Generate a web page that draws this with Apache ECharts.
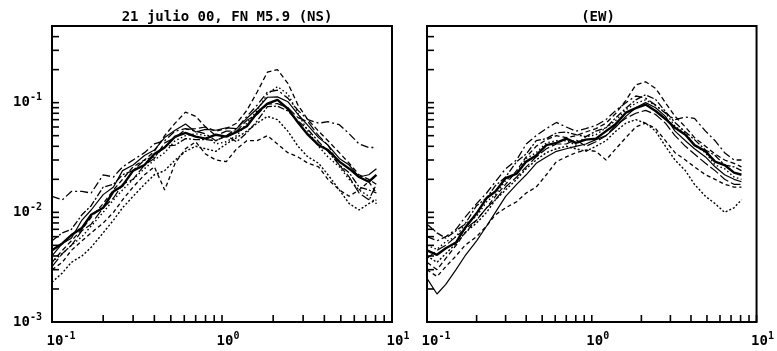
<!DOCTYPE html>
<html>
<head>
<meta charset="utf-8">
<script src="https://cdn.jsdelivr.net/npm/echarts@6/dist/echarts.min.js"></script>
<style>
  html, body { margin: 0; padding: 0; background: #fff; }
  #chart { width: 777px; height: 351px; }
</style>
</head>
<body>
<div id="chart"></div>
<script>
// frecuencias (Hz) comunes a todas las curvas
var freq = [0.10, 0.115, 0.13, 0.15, 0.17, 0.20, 0.23, 0.26, 0.30, 0.35, 0.40, 0.46, 0.53, 0.61, 0.70,
  0.80, 0.92, 1.06, 1.22, 1.40, 1.61, 1.85, 2.12, 2.44, 2.80, 3.2, 3.7, 4.2, 4.9, 5.6, 6.4, 7.3, 8.1];

// componente NS
var ns1 = [0.0045,0.0052,0.0062,0.0072,0.0095, 0.011,0.0155,0.0175,0.024,0.027, 0.034,0.039,0.049,0.053,0.049,
  0.047,0.051,0.049,0.054,0.061, 0.081,0.098,0.106,0.088,0.066, 0.051,0.041,0.037,0.029,0.025, 0.021,0.019,0.022];
var ns2 = [0.0035,0.0045,0.0055,0.007,0.009, 0.012,0.016,0.020,0.026,0.030, 0.036,0.050,0.065,0.082,0.075,
  0.060,0.055,0.058,0.065,0.085, 0.125,0.190,0.200,0.150,0.095, 0.070,0.055,0.045,0.035,0.028, 0.022,0.020,0.018];
var ns3 = [0.014,0.013,0.0155,0.0155,0.015, 0.022,0.021,0.026,0.030,0.035, 0.042,0.045,0.055,0.058,0.055,
  0.052,0.045,0.050,0.058,0.075, 0.095,0.125,0.130,0.110,0.085, 0.070,0.065,0.067,0.063,0.052, 0.042,0.039,0.039];
var ns4 = [0.0023,0.0028,0.0035,0.004,0.0048, 0.0065,0.0085,0.011,0.014,0.018, 0.022,0.024,0.030,0.036,0.040,
  0.038,0.036,0.042,0.048,0.055, 0.065,0.075,0.070,0.055,0.040, 0.032,0.028,0.022,0.016,0.012, 0.0105,0.012,0.013];
var ns5 = [0.003,0.0035,0.0045,0.0055,0.0065, 0.008,0.010,0.013,0.017,0.022, 0.026,0.016,0.028,0.038,0.044,
  0.034,0.030,0.029,0.038,0.045, 0.045,0.050,0.042,0.035,0.032, 0.028,0.026,0.020,0.016,0.014, 0.016,0.019,0.015];
var ns6 = [0.004,0.0052,0.0058,0.0085,0.0105, 0.0145,0.017,0.024,0.027,0.033, 0.037,0.048,0.056,0.064,0.054,
  0.057,0.056,0.059,0.058,0.072, 0.088,0.112,0.113,0.102,0.078, 0.062,0.048,0.041,0.031,0.027, 0.021,0.022,0.025];
var ns7 = [0.0055,0.0065,0.007,0.0095,0.0115, 0.017,0.018,0.022,0.024,0.030, 0.032,0.040,0.041,0.047,0.046,
  0.046,0.045,0.050,0.044,0.053, 0.068,0.092,0.093,0.084,0.068, 0.057,0.044,0.036,0.027,0.023, 0.017,0.016,0.015];
var ns8 = [0.0035,0.0042,0.005,0.006,0.0075, 0.010,0.013,0.016,0.020,0.025, 0.030,0.035,0.045,0.050,0.052,
  0.050,0.042,0.044,0.050,0.065, 0.085,0.120,0.140,0.120,0.080, 0.055,0.040,0.032,0.026,0.020, 0.016,0.014,0.012];
var ns9 = [0.0032,0.0042,0.005,0.0068,0.0078, 0.011,0.0135,0.018,0.020,0.027, 0.031,0.043,0.048,0.057,0.058,
  0.060,0.050,0.055,0.055,0.069, 0.078,0.097,0.098,0.090,0.073, 0.067,0.050,0.041,0.027,0.021, 0.015,0.013,0.018];

// componente EW
var ew1 = [0.0045,0.0041,0.0047,0.0053,0.0072, 0.0098,0.0135,0.0155,0.0205,0.0225, 0.029,0.033,0.041,0.043,0.047,
  0.043,0.046,0.047,0.055,0.064, 0.081,0.089,0.096,0.084,0.071, 0.059,0.051,0.041,0.036,0.029, 0.027,0.023,0.022];
var ew2 = [0.0035,0.003,0.0038,0.005,0.0065, 0.0085,0.011,0.014,0.018,0.024, 0.032,0.040,0.046,0.050,0.048,
  0.050,0.054,0.058,0.065,0.080, 0.105,0.145,0.155,0.135,0.100, 0.075,0.060,0.048,0.040,0.034, 0.030,0.028,0.026];
var ew3 = [0.006,0.0055,0.006,0.007,0.009, 0.012,0.015,0.019,0.025,0.030, 0.042,0.050,0.058,0.066,0.060,
  0.055,0.058,0.062,0.070,0.085, 0.100,0.115,0.110,0.095,0.080, 0.070,0.074,0.072,0.055,0.045, 0.035,0.030,0.030];
var ew4 = [0.004,0.0035,0.0042,0.0052,0.0065, 0.008,0.010,0.013,0.016,0.020, 0.025,0.030,0.035,0.038,0.040,
  0.038,0.036,0.040,0.045,0.055, 0.065,0.070,0.065,0.055,0.040, 0.030,0.024,0.018,0.014,0.012, 0.010,0.011,0.013];
var ew5 = [0.0025,0.0018,0.0022,0.003,0.004, 0.0055,0.0075,0.010,0.014,0.018, 0.022,0.028,0.032,0.036,0.038,
  0.040,0.042,0.046,0.050,0.060, 0.075,0.090,0.100,0.090,0.075, 0.055,0.045,0.038,0.032,0.026, 0.022,0.020,0.019];
var ew6 = [0.003,0.0026,0.0032,0.004,0.005, 0.006,0.0075,0.0095,0.011,0.0125, 0.015,0.017,0.022,0.029,0.032,
  0.035,0.037,0.036,0.030,0.038, 0.048,0.060,0.065,0.058,0.045, 0.035,0.030,0.026,0.022,0.020, 0.018,0.017,0.017];
var ew7 = [0.0078,0.0065,0.0058,0.0068,0.0078, 0.0115,0.0135,0.0175,0.021,0.029, 0.034,0.045,0.047,0.053,0.054,
  0.051,0.049,0.055,0.059,0.073, 0.089,0.106,0.118,0.107,0.083, 0.066,0.054,0.046,0.037,0.033, 0.027,0.026,0.024];
var ew8 = [0.005,0.0046,0.0054,0.006,0.0078, 0.0092,0.0125,0.0145,0.0195,0.023, 0.031,0.035,0.043,0.045,0.045,
  0.041,0.049,0.051,0.059,0.069, 0.086,0.099,0.106,0.094,0.081, 0.061,0.053,0.041,0.035,0.027, 0.025,0.021,0.020];
var ew9 = [0.0038,0.0045,0.005,0.006,0.007, 0.0085,0.011,0.013,0.017,0.021, 0.026,0.032,0.038,0.042,0.042,
  0.046,0.040,0.044,0.050,0.062, 0.072,0.080,0.085,0.078,0.065, 0.050,0.040,0.034,0.028,0.024, 0.020,0.018,0.018];

// marcas de los ejes
var xMajor = [0.1, 1, 10];
var yMajor = [0.001, 0.01, 0.1];
var minorSteps = [2, 3, 4, 5, 6, 7, 8, 9];

var nsList = [ns1, ns2, ns3, ns4, ns5, ns6, ns7, ns8, ns9];
var ewList = [ew1, ew2, ew3, ew4, ew5, ew6, ew7, ew8, ew9];
var nsDash = [
  { w: 2.4, t: 'solid' }, { w: 1.3, t: [5, 3] }, { w: 1.3, t: [8, 3, 2, 3] },
  { w: 1.4, t: [2, 2] }, { w: 1.3, t: [4, 3] }, { w: 1.2, t: 'solid' },
  { w: 1.3, t: [7, 2, 2, 2] }, { w: 1.4, t: [1.5, 2.5] }, { w: 1.2, t: [10, 3] }
];
var ewDash = [
  { w: 2.4, t: 'solid' }, { w: 1.3, t: [5, 3] }, { w: 1.3, t: [8, 3, 2, 3] },
  { w: 1.4, t: [2, 2] }, { w: 1.2, t: 'solid' }, { w: 1.3, t: [4, 3] },
  { w: 1.3, t: [7, 2, 2, 2] }, { w: 1.4, t: [1.5, 2.5] }, { w: 1.2, t: [10, 3] }
];

var FONT = 'DejaVu Sans Mono';
var sup = { '-3': '-3', '-2': '-2', '-1': '-1', '0': '0', '1': '1' };

function powLabel (value) {
  var e = Math.log10(value);
  var k = Math.round(e);
  if (Math.abs(e - k) > 1e-6) return '';
  return '{h|' + sup[k] + '}{b|10}{s|' + sup[k] + '}';
}
function powLabelY (value) {
  var e = Math.log10(value);
  var k = Math.round(e);
  if (Math.abs(e - k) > 1e-6) return '';
  return '{b|10}{s|' + sup[k] + '}';
}
var rich = {
  b: { fontFamily: FONT, fontWeight: 'bold', fontSize: 14, lineHeight: 14, color: '#000' },
  s: { fontFamily: FONT, fontWeight: 'bold', fontSize: 10, lineHeight: 10, padding: [0, 0, 10, 0], color: '#000' },
  h: { fontFamily: FONT, fontWeight: 'bold', fontSize: 10, lineHeight: 10, padding: [0, 3, 10, 3], color: 'transparent' }
};

var xTicks = [];
xMajor.forEach(function (d, i) {
  xTicks.push([d, 0.001]);
  if (i < xMajor.length - 1) minorSteps.forEach(function (m) { xTicks.push([d * m, 0.001]); });
});
var yTicks = [];
yMajor.forEach(function (d) {
  yTicks.push([0.1, d]);
  minorSteps.forEach(function (m) { if (d * m <= 0.5) yTicks.push([0.1, d * m]); });
});

function tickSeries (idx, items, dir) {
  return {
    type: 'custom', xAxisIndex: idx, yAxisIndex: idx, silent: true, z: 5,
    data: items,
    renderItem: function (params, api) {
      var p = api.coord([api.value(0), api.value(1)]);
      var q = dir === 'y' ? [p[0] + 7, p[1]] : [p[0], p[1] - 7];
      return {
        type: 'line',
        shape: { x1: p[0], y1: p[1], x2: q[0], y2: q[1] },
        style: { stroke: '#000', lineWidth: 1.6 }
      };
    }
  };
}

function curves (list, idx, dashes) {
  return list.map(function (vals, j) {
    return {
      type: 'line', xAxisIndex: idx, yAxisIndex: idx,
      showSymbol: false, symbol: 'none', silent: true,
      lineStyle: { color: '#000', width: dashes[j].w, type: dashes[j].t },
      data: freq.map(function (f, i) { return [f, vals[i]]; })
    };
  });
}

var chart = echarts.init(document.getElementById('chart'));
chart.setOption({
  backgroundColor: '#fff',
  animation: false,
  title: [
    { text: '21 julio 00, FN M5.9 (NS)', left: 222, top: 5, textAlign: 'center',
      textStyle: { fontFamily: FONT, fontWeight: 'bold', fontSize: 14, color: '#000' } },
    { text: '(EW)', left: 593, top: 5, textAlign: 'center',
      textStyle: { fontFamily: FONT, fontWeight: 'bold', fontSize: 14, color: '#000' } }
  ],
  grid: [
    { left: 52, top: 26, width: 340, height: 297, show: true, borderColor: '#000', borderWidth: 2 },
    { left: 427, top: 26, width: 332, height: 297, show: true, borderColor: '#000', borderWidth: 2 }
  ],
  xAxis: [0, 1].map(function (i) {
    return {
      type: 'log', logBase: 10, gridIndex: i, min: 0.1, max: 10,
      axisLine: { show: false }, axisTick: { show: false }, splitLine: { show: false },
      axisLabel: { formatter: powLabel, rich: rich, margin: 12, color: '#000' }
    };
  }),
  yAxis: [0, 1].map(function (i) {
    return {
      type: 'log', logBase: 10, gridIndex: i, min: 0.001, max: 0.5,
      axisLine: { show: false }, axisTick: { show: false }, splitLine: { show: false },
      axisLabel: { show: i === 0, formatter: powLabelY, rich: rich, margin: 10, color: '#000' }
    };
  }),
  series: curves(nsList, 0, nsDash).concat(curves(ewList, 1, ewDash)).concat([
    tickSeries(0, xTicks, 'x'), tickSeries(0, yTicks, 'y'),
    tickSeries(1, xTicks, 'x'), tickSeries(1, yTicks, 'y')
  ])
});
</script>
</body>
</html>
